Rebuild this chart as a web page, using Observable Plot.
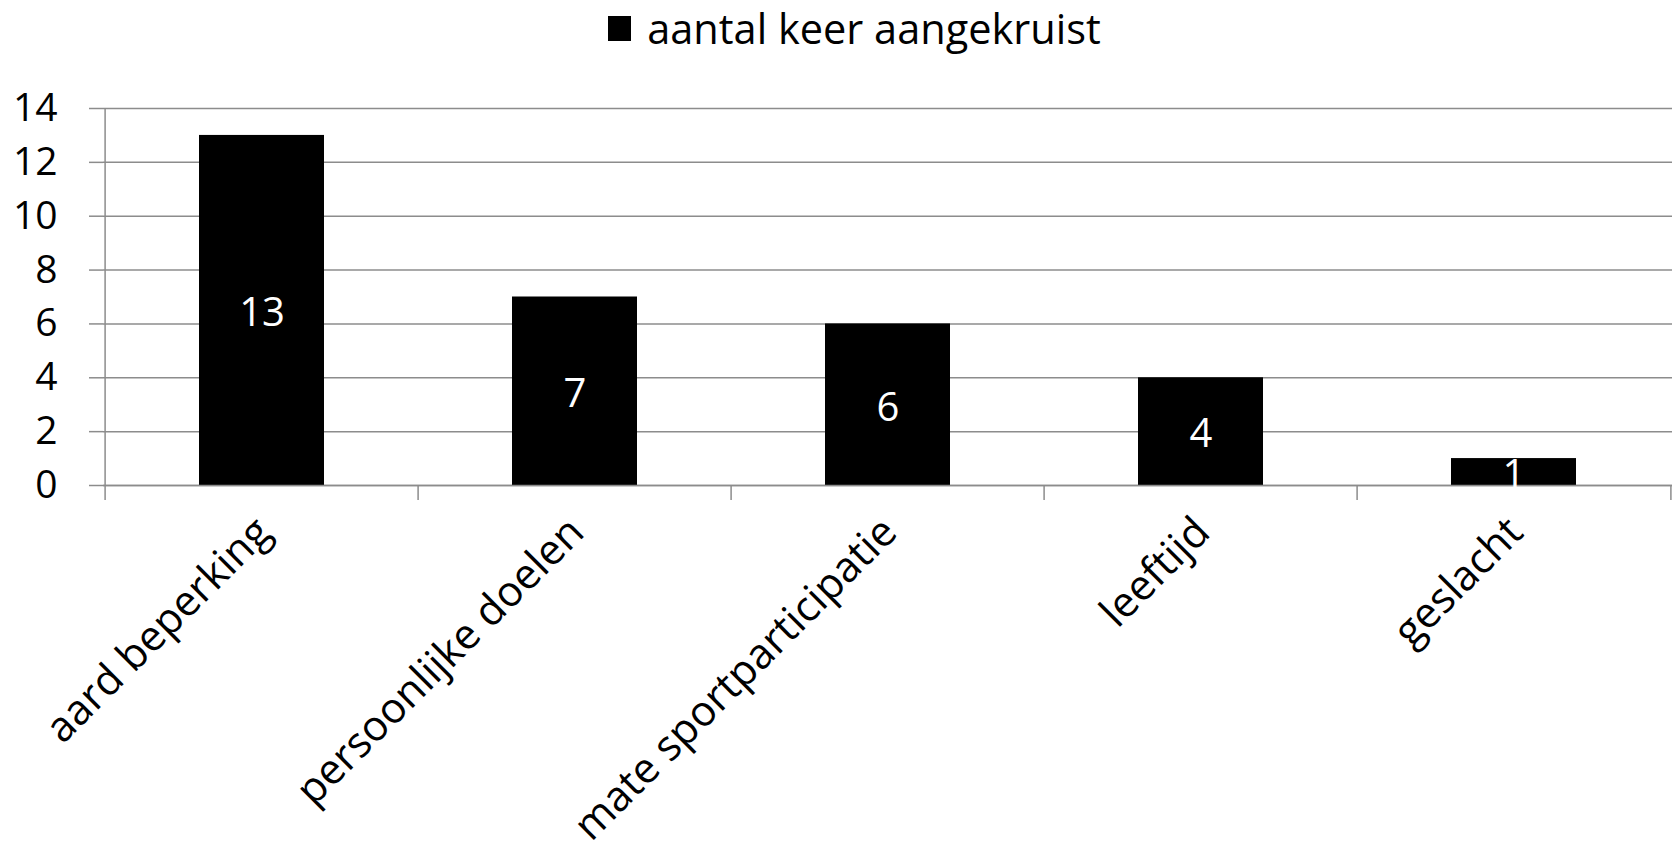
<!DOCTYPE html>
<html><head><meta charset="utf-8">
<script src="https://cdn.jsdelivr.net/npm/d3@7"></script>
<script src="https://cdn.jsdelivr.net/npm/@observablehq/plot@0.6"></script>
<style>
body{margin:0;background:#fff;font-family:"Open Sans",Lato,sans-serif;}
#legend{height:56px;display:flex;justify-content:center;align-items:center;font-size:41.5px;color:#000;padding-left:31px;box-sizing:border-box;}
#legend .sw{display:inline-block;width:23px;height:25px;background:#000;margin-right:16px;}
#chart svg{display:block;}
</style></head><body>
<div id="legend"><span class="sw"></span><span id="legtext"></span></div>
<div id="chart"></div>
<script>
const seriesName = "aantal keer aangekruist";
const categories = ["aard beperking", "persoonlijke doelen", "mate sportparticipatie", "leeftijd", "geslacht"];
const values = [13, 7, 6, 4, 1];
const yTicks = [0, 2, 4, 6, 8, 10, 12, 14];

document.getElementById("legtext").textContent = seriesName;
const data = categories.map((c, i) => ({c, v: values[i]}));

const W = 1678, H = 797, mL = 103, mR = 6, mT = 52, mB = 368;
const step = (W - mL - mR) / categories.length;
const gray = "#8c8c8c";

const chart = Plot.plot({
  width: W, height: H,
  marginLeft: mL, marginRight: mR, marginTop: mT, marginBottom: mB,
  style: {fontFamily: "'Open Sans', Lato, sans-serif", fontSize: "38px", color: "#000", background: "#fff"},
  x: {domain: categories, paddingInner: 0.6, paddingOuter: 0.3, axis: null},
  y: {domain: [0, 14], axis: null},
  marks: [
    Plot.gridY(yTicks, {stroke: gray, strokeOpacity: 1, strokeWidth: 1.5}),
    Plot.axisY(yTicks, {tickSize: 14, tickPadding: 32, stroke: gray, strokeOpacity: 1, strokeWidth: 1.5, fill: "#000", fontSize: 39, label: null}),
    Plot.barY(data, {x: "c", y: "v", fill: "#000"}),
    Plot.ruleY([0], {stroke: gray, strokeWidth: 1.5}),
    Plot.ruleX([categories[0]], {dx: -step / 2, stroke: gray, strokeWidth: 1.5}),
    Plot.axisX({tickSize: 15, dx: -step / 2, tickFormat: () => "", stroke: gray, strokeOpacity: 1, strokeWidth: 1.5, label: null}),
    Plot.axisX([categories[categories.length - 1]], {tickSize: 15, dx: step / 2, tickFormat: () => "", stroke: gray, strokeOpacity: 1, strokeWidth: 1.5, label: null}),
    Plot.text(data, {x: "c", y: d => d.v / 2, dy: 3, text: d => String(d.v), fill: "#fff", fontSize: 40}),
    Plot.text(categories, {x: d => d, frameAnchor: "bottom", dx: -10, dy: 28, rotate: -45, textAnchor: "end", lineAnchor: "top", fontSize: 42, fill: "#000"})
  ]
});
document.getElementById("chart").appendChild(chart);
</script>
</body></html>
